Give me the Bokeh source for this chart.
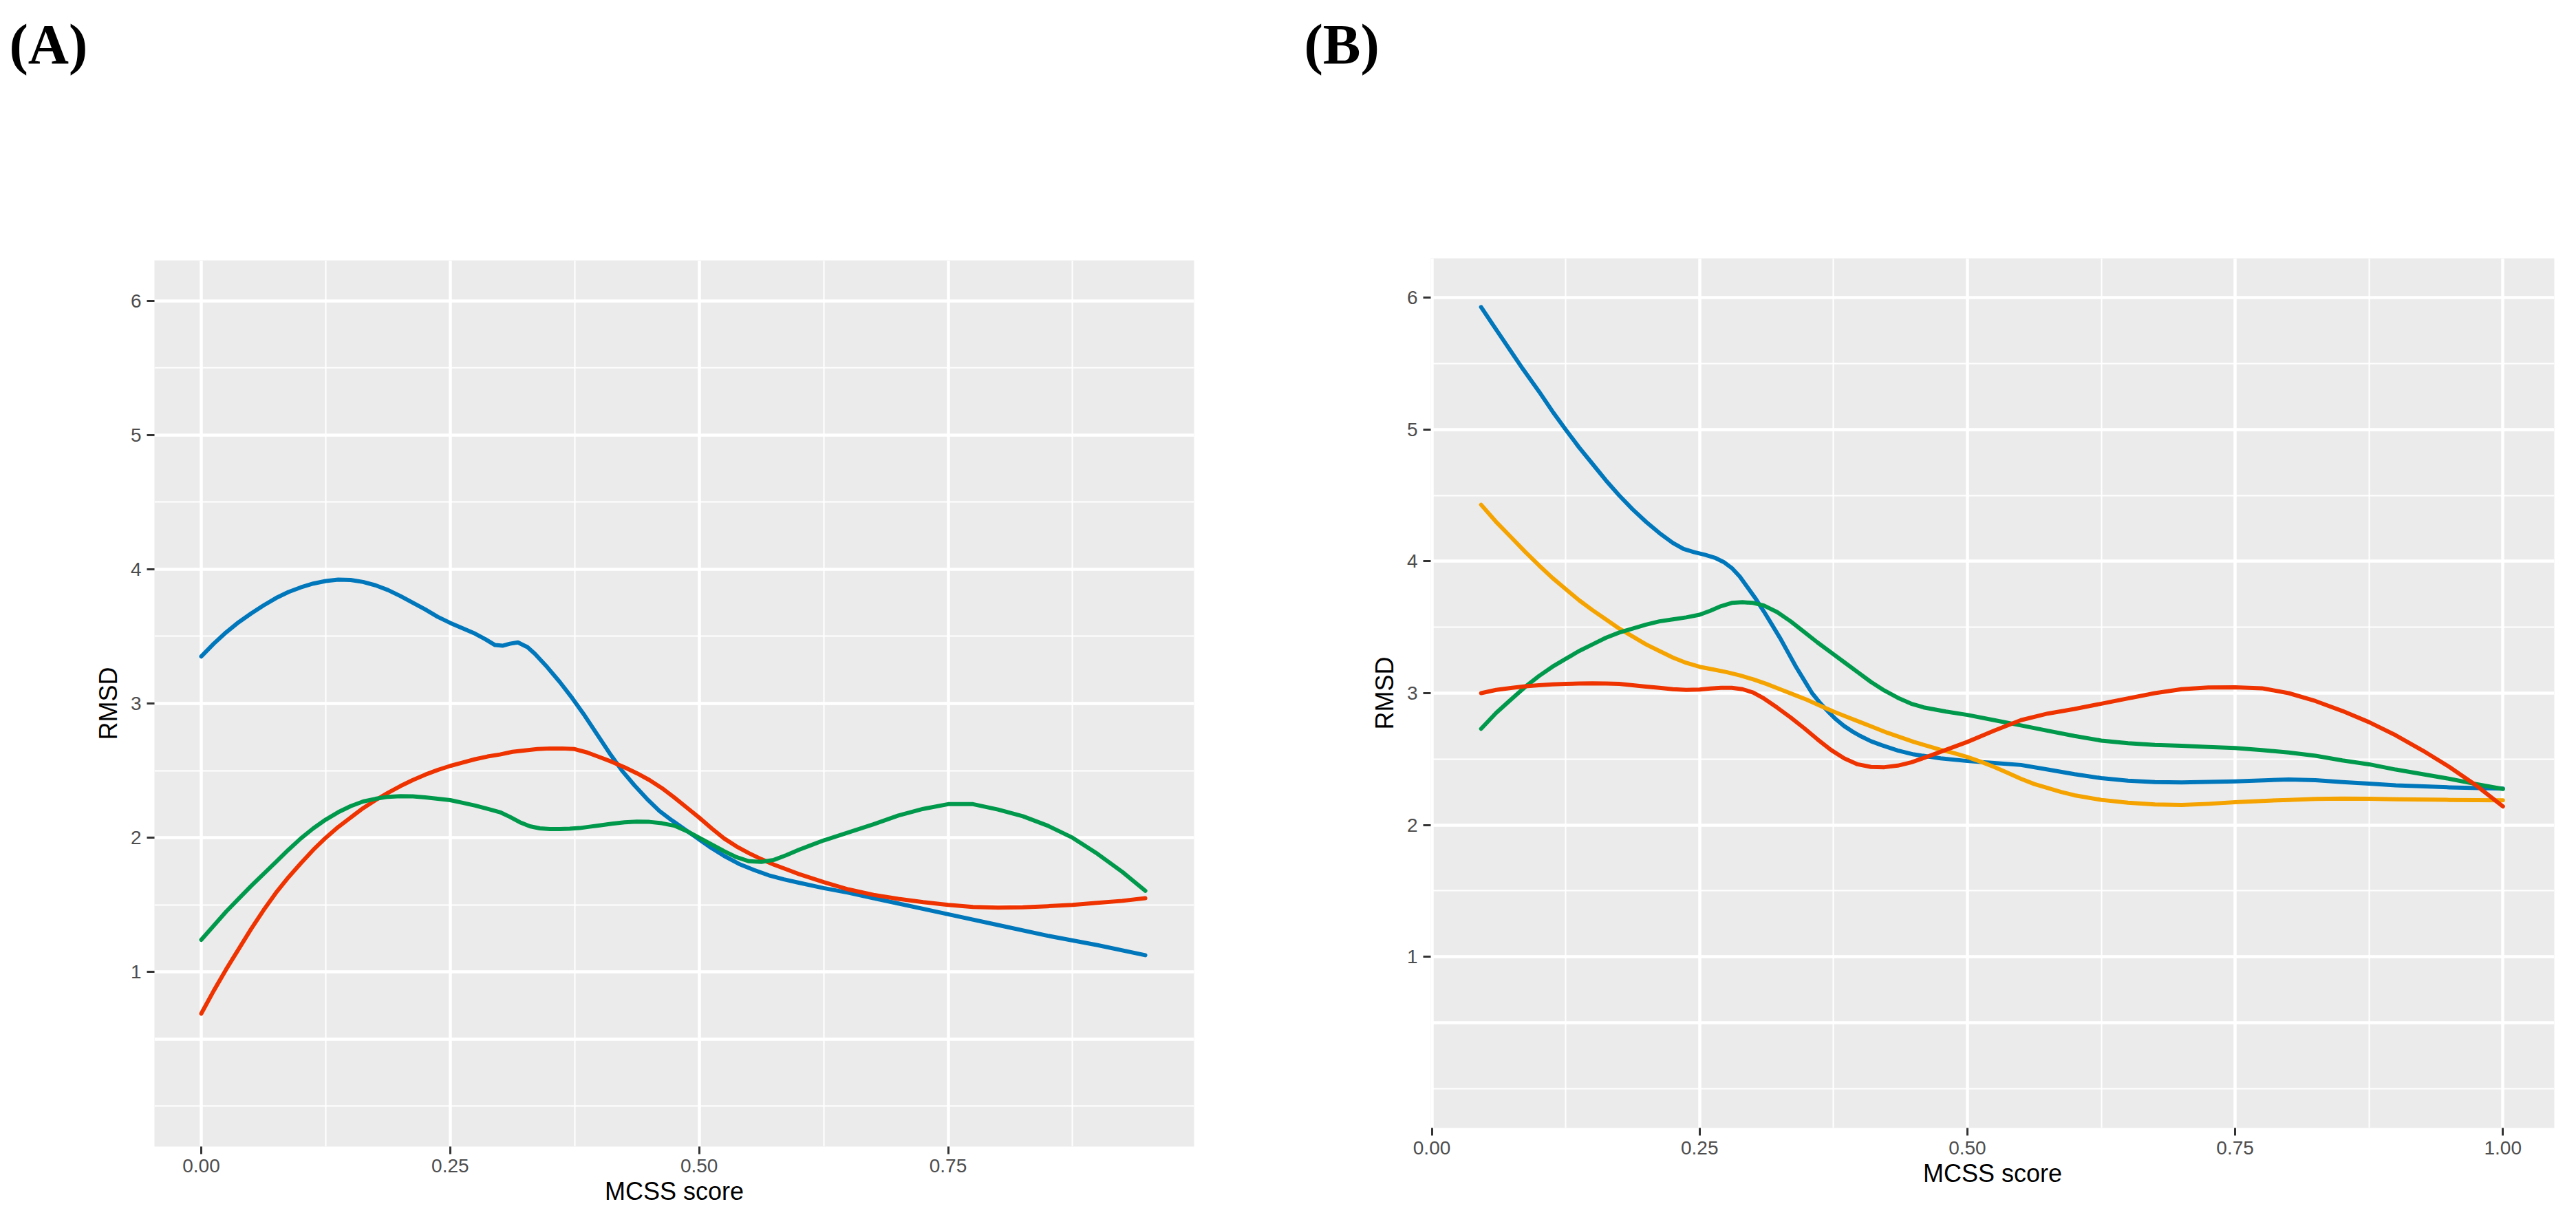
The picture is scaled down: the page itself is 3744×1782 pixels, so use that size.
from bokeh.plotting import figure
from bokeh.layouts import row, column
from bokeh.models import FixedTicker, NumeralTickFormatter, Range1d
from bokeh.core.properties import value
from bokeh.embed import file_html
from bokeh.resources import INLINE

# ---------------- Panel A data ----------------
a_blue_x = [0, 0.0125, 0.025, 0.0375, 0.05, 0.0625, 0.075, 0.0875, 0.1, 0.1125, 0.125, 0.1375,
            0.15, 0.1625, 0.175, 0.1875, 0.2, 0.2125, 0.225, 0.2375, 0.25, 0.2625, 0.275, 0.285,
            0.295, 0.3025, 0.31, 0.318, 0.3275, 0.335, 0.3475, 0.36, 0.3725, 0.385, 0.3975, 0.41,
            0.4225, 0.435, 0.4475, 0.46, 0.4725, 0.485, 0.4975, 0.51, 0.525, 0.54, 0.555, 0.57,
            0.585, 0.6, 0.625, 0.65, 0.675, 0.7, 0.75, 0.8, 0.85, 0.9, 0.948]
a_blue_y = [3.35, 3.445, 3.53, 3.605, 3.67, 3.73, 3.785, 3.83, 3.865, 3.893, 3.912, 3.922,
            3.92, 3.905, 3.88, 3.845, 3.80, 3.75, 3.70, 3.645, 3.60, 3.56, 3.52, 3.48,
            3.435, 3.43, 3.445, 3.455, 3.42, 3.37, 3.27, 3.16, 3.04, 2.91, 2.77, 2.63,
            2.50, 2.39, 2.29, 2.20, 2.13, 2.065, 2.00, 1.935, 1.865, 1.805, 1.76, 1.72,
            1.69, 1.665, 1.625, 1.59, 1.55, 1.51, 1.43, 1.35, 1.27, 1.20, 1.125]

a_red_x = [0, 0.0125, 0.025, 0.0375, 0.05, 0.0625, 0.075, 0.0875, 0.1, 0.1125, 0.125, 0.1375,
           0.15, 0.1625, 0.175, 0.1875, 0.2, 0.2125, 0.225, 0.2375, 0.25, 0.2625, 0.275, 0.2875,
           0.3, 0.3125, 0.325, 0.3375, 0.35, 0.3625, 0.375, 0.3875, 0.4, 0.4125, 0.425, 0.4375,
           0.45, 0.4625, 0.475, 0.4875, 0.5, 0.5125, 0.525, 0.5375, 0.55, 0.5625, 0.575, 0.5875,
           0.6, 0.625, 0.65, 0.675, 0.7, 0.725, 0.75, 0.775, 0.8, 0.825, 0.85, 0.875, 0.9,
           0.925, 0.948]
a_red_y = [0.69, 0.86, 1.02, 1.17, 1.32, 1.46, 1.59, 1.705, 1.81, 1.91, 2.00, 2.08,
           2.15, 2.22, 2.28, 2.335, 2.385, 2.43, 2.47, 2.505, 2.535, 2.56, 2.585, 2.605,
           2.62, 2.64, 2.65, 2.66, 2.665, 2.665, 2.66, 2.635, 2.60, 2.565, 2.525, 2.48,
           2.43, 2.37, 2.30, 2.225, 2.15, 2.07, 1.995, 1.935, 1.885, 1.84, 1.80, 1.765,
           1.73, 1.67, 1.615, 1.575, 1.545, 1.52, 1.50, 1.485, 1.48, 1.482, 1.49, 1.50, 1.515,
           1.53, 1.55]

a_green_x = [0, 0.0125, 0.025, 0.0375, 0.05, 0.0625, 0.075, 0.0875, 0.1, 0.1125, 0.125, 0.1375,
             0.15, 0.1625, 0.175, 0.1875, 0.2, 0.2125, 0.225, 0.2375, 0.25, 0.2625, 0.275,
             0.2875, 0.3, 0.31, 0.32, 0.33, 0.34, 0.35, 0.36, 0.37, 0.38, 0.39, 0.4, 0.4125,
             0.425, 0.4375, 0.45, 0.4625, 0.475, 0.4875, 0.5, 0.5125, 0.525, 0.5375, 0.55,
             0.5625, 0.575, 0.5875, 0.6, 0.6125, 0.625, 0.65, 0.675, 0.7, 0.725, 0.75, 0.775,
             0.8, 0.825, 0.85, 0.875, 0.9, 0.925, 0.948]
a_green_y = [1.24, 1.345, 1.45, 1.545, 1.64, 1.73, 1.82, 1.91, 1.995, 2.07, 2.135, 2.19,
             2.235, 2.27, 2.29, 2.305, 2.31, 2.308, 2.30, 2.29, 2.28, 2.26, 2.24,
             2.215, 2.19, 2.155, 2.115, 2.085, 2.07, 2.065, 2.065, 2.067, 2.072, 2.082, 2.092,
             2.105, 2.115, 2.12, 2.118, 2.108, 2.09, 2.05, 2.00, 1.95, 1.90, 1.855, 1.825,
             1.82, 1.835, 1.87, 1.91, 1.945, 1.98, 2.04, 2.10, 2.165, 2.215, 2.25, 2.25,
             2.21, 2.16, 2.09, 2.00, 1.88, 1.745, 1.605]

# ---------------- Panel B data ----------------
b_blue_x = [0.046, 0.0575, 0.07, 0.085, 0.1, 0.1125, 0.125, 0.1375, 0.15, 0.1625, 0.175, 0.1875,
            0.2, 0.2125, 0.225, 0.235, 0.245, 0.255, 0.265, 0.2725, 0.28, 0.2875, 0.295, 0.3025,
            0.31, 0.3175, 0.325, 0.3325, 0.34, 0.3475, 0.355, 0.3625, 0.37, 0.3775, 0.385,
            0.3925, 0.4, 0.41, 0.42, 0.435, 0.45, 0.475, 0.5, 0.525, 0.55, 0.575, 0.6, 0.625,
            0.65, 0.675, 0.7, 0.75, 0.8, 0.825, 0.85, 0.875, 0.9, 0.95, 1.0]
b_blue_y = [5.93, 5.79, 5.64, 5.46, 5.29, 5.14, 5.00, 4.865, 4.74, 4.615, 4.50, 4.395,
            4.30, 4.215, 4.14, 4.095, 4.07, 4.05, 4.025, 3.995, 3.95, 3.885, 3.80, 3.715,
            3.62, 3.52, 3.42, 3.31, 3.20, 3.10, 3.00, 2.925, 2.86, 2.80, 2.75,
            2.71, 2.675, 2.635, 2.605, 2.565, 2.535, 2.505, 2.485, 2.47, 2.455, 2.42, 2.385, 2.355,
            2.335, 2.325, 2.322, 2.33, 2.345, 2.34, 2.325, 2.313, 2.30, 2.285, 2.275]

b_orange_x = [0.046, 0.06, 0.075, 0.0875, 0.1, 0.1125, 0.125, 0.1375, 0.15, 0.1625, 0.175,
              0.1875, 0.2, 0.2125, 0.225, 0.2375, 0.25, 0.2625, 0.275, 0.2875, 0.3, 0.3125,
              0.325, 0.3375, 0.35, 0.3625, 0.375, 0.3875, 0.4, 0.4125, 0.425, 0.4375, 0.45,
              0.4625, 0.475, 0.4875, 0.5, 0.5125, 0.525, 0.5375, 0.55, 0.5625, 0.575, 0.5875,
              0.6, 0.625, 0.65, 0.675, 0.7, 0.725, 0.75, 0.775, 0.8, 0.825, 0.85, 0.875, 0.9,
              0.95, 1.0]
b_orange_y = [4.43, 4.30, 4.175, 4.07, 3.97, 3.875, 3.79, 3.705, 3.63, 3.56, 3.49,
              3.43, 3.37, 3.32, 3.27, 3.23, 3.20, 3.18, 3.16, 3.135, 3.105, 3.07,
              3.03, 2.99, 2.95, 2.905, 2.86, 2.82, 2.78, 2.74, 2.70, 2.665, 2.63,
              2.60, 2.57, 2.545, 2.515, 2.48, 2.44, 2.395, 2.35, 2.31, 2.28, 2.25,
              2.225, 2.19, 2.168, 2.155, 2.152, 2.16, 2.172, 2.182, 2.19, 2.197, 2.20, 2.198, 2.195,
              2.19, 2.187]

b_green_x = [0.046, 0.06, 0.075, 0.0875, 0.1, 0.1125, 0.125, 0.1375, 0.15, 0.1625, 0.175,
             0.1875, 0.2, 0.2125, 0.225, 0.2375, 0.25, 0.26, 0.27, 0.28, 0.29, 0.3, 0.31, 0.3225,
             0.335, 0.3475, 0.36, 0.3725, 0.385, 0.3975, 0.41, 0.4225, 0.435, 0.4475, 0.46, 0.48,
             0.5, 0.525, 0.55, 0.575, 0.6, 0.625, 0.65, 0.675, 0.7, 0.725, 0.75, 0.775, 0.8,
             0.825, 0.85, 0.875, 0.9, 0.925, 0.95, 0.975, 1.0]
b_green_y = [2.73, 2.85, 2.96, 3.05, 3.13, 3.20, 3.26, 3.32, 3.37, 3.42, 3.46,
             3.49, 3.52, 3.545, 3.56, 3.575, 3.595, 3.625, 3.66, 3.685, 3.69, 3.685, 3.665, 3.615,
             3.545, 3.465, 3.385, 3.31, 3.235, 3.16, 3.085, 3.02, 2.965, 2.92, 2.89, 2.86,
             2.835, 2.795, 2.755, 2.715, 2.675, 2.64, 2.62, 2.607, 2.60, 2.592, 2.583, 2.568, 2.55,
             2.525, 2.49, 2.46, 2.42, 2.385, 2.35, 2.31, 2.273]

b_red_x = [0.046, 0.06, 0.075, 0.0875, 0.1, 0.1125, 0.125, 0.1375, 0.15, 0.1625, 0.175, 0.1875,
           0.2, 0.2125, 0.225, 0.2375, 0.25, 0.26, 0.27, 0.28, 0.29, 0.3, 0.31, 0.3225, 0.335,
           0.3475, 0.36, 0.3725, 0.385, 0.3975, 0.41, 0.4225, 0.435, 0.4475, 0.46, 0.48, 0.5,
           0.525, 0.55, 0.575, 0.6, 0.625, 0.65, 0.675, 0.7, 0.725, 0.75, 0.775, 0.8, 0.825,
           0.85, 0.875, 0.9, 0.925, 0.95, 0.975, 1.0]
b_red_y = [3.00, 3.025, 3.04, 3.052, 3.06, 3.066, 3.07, 3.073, 3.075, 3.073, 3.07, 3.06,
           3.05, 3.04, 3.03, 3.025, 3.028, 3.035, 3.04, 3.04, 3.03, 3.005, 2.96, 2.89, 2.815,
           2.735, 2.65, 2.57, 2.505, 2.46, 2.44, 2.438, 2.45, 2.475, 2.51, 2.57, 2.63,
           2.715, 2.795, 2.845, 2.88, 2.92, 2.96, 3.00, 3.03, 3.043, 3.045, 3.037, 3.00, 2.94,
           2.865, 2.78, 2.68, 2.565, 2.44, 2.30, 2.14]

a_xticks = [0.0, 0.25, 0.5, 0.75]
a_xminor = [0.125, 0.375, 0.625, 0.875]
b_xticks = [0.0, 0.25, 0.5, 0.75, 1.0]
b_xminor = [0.125, 0.375, 0.625, 0.875]
yticks = [1, 2, 3, 4, 5, 6]
ygrid_major = [0.5, 1, 2, 3, 4, 5, 6]
ygrid_minor = [0, 1.5, 2.5, 3.5, 4.5, 5.5]

panel_letters = ["(A)", "(B)"]
x_title = "MCSS score"
y_title = "RMSD"

BLUE = "#0077BB"
RED = "#EE3300"
GREEN = "#00994C"
ORANGE = "#F5A300"

FONT = "Liberation Sans"
HEADER_H = 120


def make_panel(width, height, mb_left, mb_right, mb_top, mb_bottom, xr, xt, xm, x_standoff):
    p = figure(width=width, height=height, output_backend="svg", toolbar_location=None,
               x_range=Range1d(*xr), y_range=Range1d(-0.3, 6.3),
               min_border_left=mb_left, min_border_right=mb_right,
               min_border_top=mb_top, min_border_bottom=mb_bottom)
    p.background_fill_color = "#EBEBEB"
    p.border_fill_color = "white"
    p.outline_line_color = None

    p.xaxis.ticker = FixedTicker(ticks=xt)
    p.yaxis.ticker = FixedTicker(ticks=yticks)
    p.xaxis.formatter = NumeralTickFormatter(format="0.00")
    p.xgrid.ticker = FixedTicker(ticks=xt, minor_ticks=xm)
    p.ygrid.ticker = FixedTicker(ticks=ygrid_major, minor_ticks=ygrid_minor)
    for g in (p.xgrid, p.ygrid):
        g.grid_line_color = "white"
        g.grid_line_width = 4.5
        g.minor_grid_line_color = "white"
        g.minor_grid_line_width = 2

    for ax in (p.xaxis, p.yaxis):
        ax.axis_line_color = None
        ax.major_tick_line_color = "#333333"
        ax.major_tick_line_width = 3
        ax.major_tick_out = 11
        ax.major_tick_in = 0
        ax.minor_tick_line_color = None
        ax.major_label_text_font = FONT
        ax.major_label_text_font_size = "28px"
        ax.major_label_text_color = "#4D4D4D"
        ax.axis_label_text_font = FONT
        ax.axis_label_text_font_size = "36px"
        ax.axis_label_text_font_style = "normal"
        ax.axis_label_text_color = "black"
    p.xaxis.axis_label = x_title
    p.yaxis.axis_label = y_title
    p.xaxis.major_label_standoff = x_standoff
    p.xaxis.axis_label_standoff = 4
    p.yaxis.major_label_standoff = 8
    p.yaxis.axis_label_standoff = 9
    return p


# header strip carrying the panel letters
header = figure(width=3728, height=HEADER_H, output_backend="svg", toolbar_location=None,
                x_range=Range1d(0, 3728), y_range=Range1d(HEADER_H, 0),
                x_axis_type=None, y_axis_type=None,
                min_border_left=0, min_border_right=0, min_border_top=0, min_border_bottom=0)
header.outline_line_color = None
header.background_fill_color = "white"
header.border_fill_color = "white"
header.text(x=[13, 1895], y=[64, 64], text=panel_letters,
            text_font=value("Liberation Serif"), text_font_style="bold",
            text_font_size="82px", text_color="black",
            text_align="left", text_baseline="middle")

pA = make_panel(1857, 1762 - HEADER_H, 224, 122, 378 - HEADER_H, 96,
                (-0.047, 0.997), a_xticks, a_xminor, 7)
pA.line(a_blue_x, a_blue_y, line_color=BLUE, line_width=6, line_join="round", line_cap="round")
pA.line(a_red_x, a_red_y, line_color=RED, line_width=6, line_join="round", line_cap="round")
pA.line(a_green_x, a_green_y, line_color=GREEN, line_width=6, line_join="round", line_cap="round")

pB = make_panel(1871, 1762 - HEADER_H, 222, 16, 375 - HEADER_H, 123,
                (-0.001, 1.048), b_xticks, b_xminor, 8)
pB.line(b_blue_x, b_blue_y, line_color=BLUE, line_width=6, line_join="round", line_cap="round")
pB.line(b_orange_x, b_orange_y, line_color=ORANGE, line_width=6, line_join="round", line_cap="round")
pB.line(b_green_x, b_green_y, line_color=GREEN, line_width=6, line_join="round", line_cap="round")
pB.line(b_red_x, b_red_y, line_color=RED, line_width=6, line_join="round", line_cap="round")

layout = column(header, row(column(pA), column(pB)))
open("out.html", "w").write(file_html(layout, INLINE))
